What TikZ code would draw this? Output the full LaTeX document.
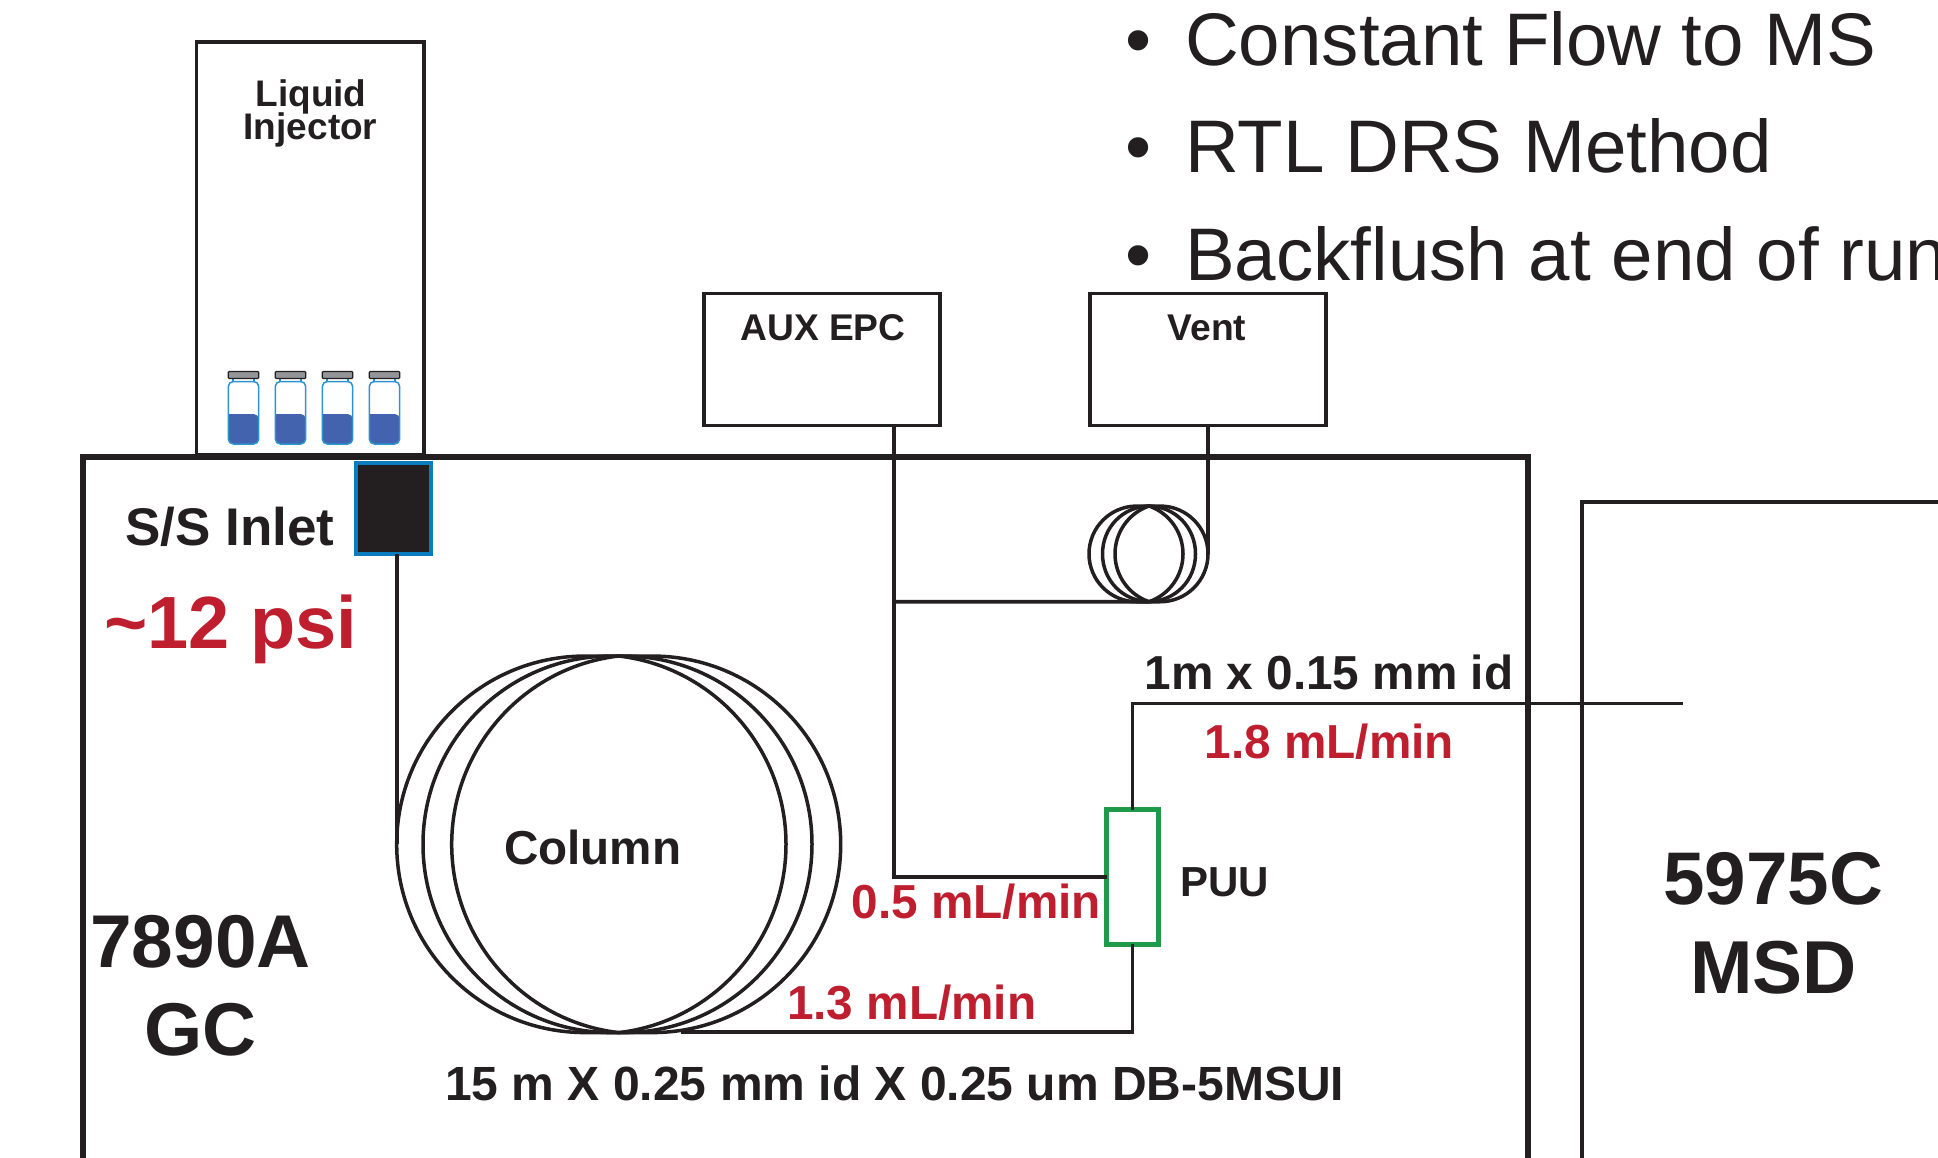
\documentclass[tikz,border=0pt]{standalone}
\usepackage{fontspec}
\setmainfont{Liberation Sans}
\usetikzlibrary{shapes.misc}
\definecolor{ink}{HTML}{231F20}
\definecolor{flowred}{HTML}{BE1E2D}
\definecolor{inletblue}{HTML}{0A7DBE}
\definecolor{vialblue}{HTML}{2A93D0}
\definecolor{liquid}{HTML}{4463AE}
\definecolor{puugreen}{HTML}{1F9A4B}
\definecolor{capgray}{HTML}{939598}
\newcommand{\fs}[1]{\fontsize{#1}{#1}\selectfont}
\tikzset{
  box/.style={draw=ink, rectangle, line width=3.7pt, inner sep=0, outer sep=0},
  loop/.style={draw=ink, rounded rectangle, line width=3.5pt, inner sep=0, outer sep=0},
  lens/.style={draw=ink, line width=3.5pt},
  pipe/.style={draw=ink, line width=3.8pt},
  txt/.style={text=ink, anchor=base, inner sep=0, font=\bfseries\fs{#1}},
  flow/.style={text=flowred, anchor=base west, inner sep=0, font=\bfseries\fs{47.7}},
  bullet/.style={text=ink, anchor=base west, inner sep=0, font=\fs{74.5}},
}
\begin{document}
\begin{tikzpicture}[x=1pt, y=-1pt]
  \useasboundingbox (0,0) rectangle (1938,1157);
  \clip (0,0) rectangle (1938,1157);
  % boxes
  \node[box, minimum width=227.5, minimum height=413] (injector) at (310.25,248.5) {};
  \node[box, minimum width=236, minimum height=132] (aux) at (822,359.5) {};
  \node[box, minimum width=236, minimum height=132] (vent) at (1208,359.5) {};
  \node[box, line width=6pt, minimum width=1445, minimum height=844] (gc) at (805,879) {};
  \node[box, line width=4.5pt, minimum width=600, minimum height=800] (msd) at (1882,902) {};
  \node[box, draw=inletblue, fill=ink, line width=4pt, minimum width=74.7, minimum height=91.3] (inlet) at (393.3,508.4) {};
  \node[box, draw=puugreen, line width=5.5pt, minimum width=51.6, minimum height=134.6] (puu) at (1132.5,877) {};
  % vials
  \foreach \vx in {228.3,275.3,322.3,369.3} {
    \fill[liquid, rounded corners=5pt] (\vx,414) -- (\vx,444) -- (\vx+30.4,444) -- (\vx+30.4,414) [sharp corners] -- cycle;
    \draw[vialblue, line width=1.5pt, rounded corners=5pt] (\vx,381.5) rectangle (\vx+30.4,444);
    \draw[vialblue, line width=1.5pt] (\vx+4.5,378) -- (\vx+4.5,381.5) (\vx+25.9,378) -- (\vx+25.9,381.5);
    \draw[draw=ink, fill=capgray, line width=1.2pt, rounded corners=1pt] (\vx,371.5) rectangle (\vx+30.4,378.5);
  }
  % column
  \coordinate (coltop) at (618.7,656);
  \coordinate (colbot) at (618.7,1032.6);
  \coordinate (colE) at (786,844.3);
  \coordinate (colW) at (451.7,844.3);
  \node[loop, minimum width=389, minimum height=376.5] (colB) at (617.5,844.3) {};
  \node[loop, minimum width=444, minimum height=376.5] (colC) at (618.7,844.3) {};
  \draw[lens] (coltop) .. controls +(95,11) and +(0,-96) .. (colE) .. controls +(0,96) and +(95,-11) .. (colbot)
    .. controls +(-95,-11) and +(0,96) .. (colW) .. controls +(0,-96) and +(-95,11) .. (coltop) -- cycle;
  % coil
  \coordinate (coiltop) at (1149,506);
  \coordinate (coilbot) at (1149,601.7);
  \coordinate (coilaE) at (1183,553.9);
  \coordinate (coilaW) at (1115,553.9);
  \coordinate (coilbE) at (1195.5,553.9);
  \coordinate (coilbW) at (1102.5,553.9);
  \node[loop, minimum width=119, minimum height=95.7] (coilC) at (1148.5,553.9) {};
  \draw[lens] (coiltop) .. controls +(20.4,7.1) and +(0,-21.6) .. (coilaE) .. controls +(0,21.6) and +(20.4,-7.1) .. (coilbot)
    .. controls +(-20.4,-7.1) and +(0,21.6) .. (coilaW) .. controls +(0,-21.6) and +(-20.4,7.1) .. (coiltop) -- cycle;
  \draw[lens] (coiltop) .. controls +(26.4,0.7) and +(0,-26.4) .. (coilbE) .. controls +(0,26.4) and +(26.4,-0.7) .. (coilbot)
    .. controls +(-26.4,-0.7) and +(0,26.4) .. (coilbW) .. controls +(0,-26.4) and +(-26.4,0.7) .. (coiltop) -- cycle;
  \coordinate (tee) at (893.6,601.7);
  \coordinate (colend) at (681,1031.7);
  \coordinate (msdend) at (1683,703.5);
  % plumbing
  \draw[pipe] (inlet.south -| colC.west) -- (colC.west);
  \draw[pipe] (aux.south -| tee) |- (puu.west);
  \draw[pipe] (tee) -- (coilC.south);
  \draw[pipe] (vent.south) -- (coilC.east);
  \draw[pipe] (msdend) -| (puu.north);
  \draw[pipe] (colend) -| (puu.south);
  % labels
  \node[txt=37] (liquidlbl) at (311,106) {Liquid};
  \node[txt=37] (injectorlbl) at (310.5,139.5) {Injector};
  \node[txt=37.2] (auxlbl) at (823,340.5) {AUX EPC};
  \node[txt=37.2] (ventlbl) at (1207,340.5) {Vent};
  \node[txt=53, anchor=base west] (inletlbl) at (125,545) {S/S Inlet};
  \node[flow, font=\bfseries\fs{74}] (psilbl) at (104,648) {\textasciitilde 12 psi};
  \node[txt=47.6, anchor=base west] (columnlbl) at (504,864) {Column};
  \node[txt=42, anchor=base west] (puulbl) at (1180,896) {PUU};
  \node[txt=74.8] (gclbla) at (200.5,967.5) {7890A};
  \node[txt=74.8] (gclblb) at (200.5,1055.5) {GC};
  \node[txt=74.6] (msdlbla) at (1773,904) {5975C};
  \node[txt=75] (msdlblb) at (1773.5,993) {MSD};
  \node[txt=47.7, anchor=base west] (restlbl) at (1144.5,689) {1m x 0.15 mm id};
  \node[txt=48, anchor=base west] (dimlbl) at (445,1100) {15 m X 0.25 mm id X 0.25 um DB-5MSUI};
  \node[flow] (flowa) at (1204.5,758) {1.8 mL/min};
  \node[flow] (flowb) at (851.5,918.5) {0.5 mL/min};
  \node[flow] (flowc) at (787,1019.5) {1.3 mL/min};
  \node[bullet] (bula) at (1125,65) {\makebox[60pt][l]{\textbullet}Constant Flow to MS};
  \node[bullet] (bulb) at (1125,172.5) {\makebox[60pt][l]{\textbullet}RTL DRS Method};
  \node[bullet] (bulc) at (1125,280) {\makebox[60pt][l]{\textbullet}Backflush at end of run};
\end{tikzpicture}
\end{document}
